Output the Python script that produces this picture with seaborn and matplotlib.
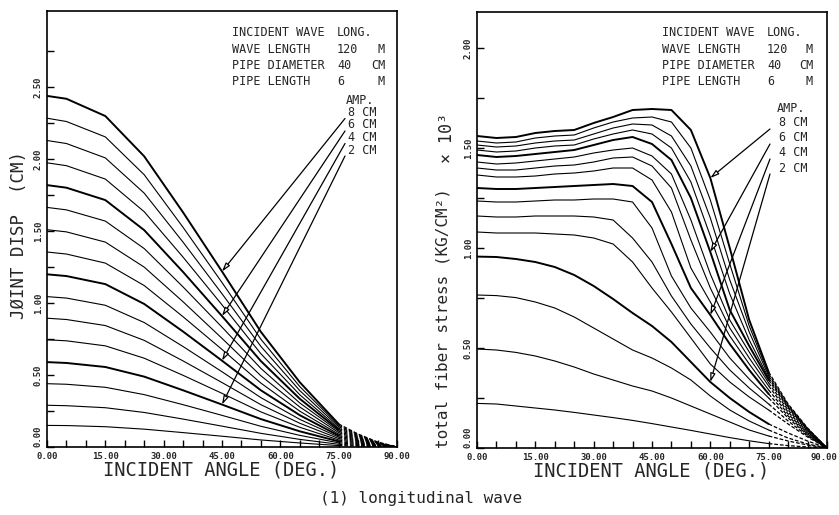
import matplotlib
matplotlib.use("Agg")
import matplotlib.pyplot as plt
import matplotlib.transforms as mtrans
import numpy as np
import pandas as pd
import seaborn as sns

# amplitude of ground displacement for each curve (cm)
amps = [0.5, 1.0, 1.5, 2.0, 2.5, 3.0, 3.5, 4.0, 4.5, 5.0, 5.5, 6.0, 6.5, 7.0, 7.5, 8.0]

# left panel: joint displacement (cm), one row per amplitude
disp_angles = [0, 5, 15, 25, 35, 45, 55, 65, 75, 80, 85, 90]
disp_curves = [
    [0.15, 0.149, 0.141, 0.124, 0.10, 0.075, 0.049, 0.028, 0.010, 0.006, 0.002, 0.0],
    [0.29, 0.287, 0.273, 0.24, 0.194, 0.145, 0.095, 0.053, 0.019, 0.011, 0.004, 0.0],
    [0.44, 0.436, 0.415, 0.364, 0.294, 0.22, 0.144, 0.081, 0.029, 0.016, 0.006, 0.0],
    [0.59, 0.584, 0.556, 0.489, 0.394, 0.295, 0.194, 0.109, 0.039, 0.022, 0.008, 0.0],
    [0.745, 0.738, 0.703, 0.617, 0.498, 0.373, 0.244, 0.137, 0.049, 0.028, 0.010, 0.0],
    [0.895, 0.886, 0.844, 0.741, 0.598, 0.448, 0.294, 0.165, 0.059, 0.033, 0.013, 0.0],
    [1.045, 1.035, 0.985, 0.865, 0.698, 0.523, 0.343, 0.192, 0.069, 0.039, 0.015, 0.0],
    [1.20, 1.188, 1.132, 0.994, 0.802, 0.60, 0.394, 0.221, 0.079, 0.044, 0.017, 0.0],
    [1.355, 1.341, 1.278, 1.122, 0.905, 0.678, 0.444, 0.249, 0.089, 0.050, 0.019, 0.0],
    [1.51, 1.495, 1.424, 1.250, 1.009, 0.755, 0.495, 0.278, 0.100, 0.056, 0.021, 0.0],
    [1.665, 1.648, 1.570, 1.379, 1.112, 0.833, 0.546, 0.306, 0.110, 0.062, 0.023, 0.0],
    [1.82, 1.802, 1.716, 1.507, 1.216, 0.91, 0.597, 0.335, 0.120, 0.067, 0.025, 0.0],
    [1.975, 1.955, 1.862, 1.635, 1.319, 0.988, 0.648, 0.363, 0.130, 0.073, 0.028, 0.0],
    [2.13, 2.109, 2.009, 1.764, 1.423, 1.065, 0.699, 0.392, 0.141, 0.079, 0.030, 0.0],
    [2.285, 2.262, 2.155, 1.892, 1.526, 1.143, 0.749, 0.420, 0.151, 0.085, 0.032, 0.0],
    [2.44, 2.42, 2.30, 2.02, 1.63, 1.22, 0.80, 0.45, 0.16, 0.09, 0.035, 0.0],
]

# right panel: total fiber stress (x10^3 kg/cm2)
stress_angles = [0, 5, 10, 15, 20, 25, 30, 35, 40, 45, 50, 55, 60, 65, 70, 75, 80, 85, 90]
stress_curves = [
    [0.223, 0.22, 0.21, 0.20, 0.19, 0.178, 0.165, 0.152, 0.138, 0.122, 0.105, 0.088, 0.07, 0.052, 0.036, 0.022, 0.012, 0.005, 0.0],
    [0.495, 0.49, 0.478, 0.46, 0.435, 0.405, 0.37, 0.34, 0.31, 0.285, 0.25, 0.21, 0.17, 0.13, 0.09, 0.06, 0.035, 0.015, 0.0],
    [0.765, 0.762, 0.752, 0.73, 0.70, 0.655, 0.60, 0.545, 0.49, 0.45, 0.40, 0.34, 0.26, 0.19, 0.135, 0.09, 0.05, 0.02, 0.0],
    [0.957, 0.955, 0.945, 0.93, 0.905, 0.865, 0.81, 0.745, 0.675, 0.61, 0.53, 0.43, 0.33, 0.25, 0.18, 0.12, 0.075, 0.035, 0.0],
    [1.08, 1.075, 1.075, 1.075, 1.07, 1.065, 1.05, 1.02, 0.93, 0.80, 0.68, 0.55, 0.42, 0.33, 0.255, 0.19, 0.12, 0.055, 0.0],
    [1.16, 1.155, 1.155, 1.16, 1.16, 1.16, 1.155, 1.14, 1.05, 0.93, 0.76, 0.62, 0.50, 0.39, 0.30, 0.22, 0.135, 0.06, 0.0],
    [1.235, 1.23, 1.23, 1.235, 1.24, 1.24, 1.245, 1.245, 1.23, 1.10, 0.86, 0.70, 0.58, 0.45, 0.345, 0.25, 0.15, 0.065, 0.0],
    [1.30, 1.295, 1.295, 1.30, 1.305, 1.31, 1.315, 1.32, 1.31, 1.23, 1.02, 0.80, 0.665, 0.52, 0.39, 0.27, 0.16, 0.07, 0.0],
    [1.365, 1.355, 1.355, 1.36, 1.37, 1.375, 1.385, 1.40, 1.40, 1.34, 1.18, 0.90, 0.73, 0.56, 0.42, 0.29, 0.17, 0.075, 0.0],
    [1.40, 1.39, 1.39, 1.40, 1.41, 1.415, 1.43, 1.45, 1.455, 1.41, 1.30, 1.04, 0.80, 0.60, 0.45, 0.31, 0.18, 0.08, 0.0],
    [1.43, 1.42, 1.425, 1.435, 1.445, 1.455, 1.475, 1.49, 1.50, 1.46, 1.37, 1.14, 0.87, 0.64, 0.48, 0.325, 0.19, 0.085, 0.0],
    [1.465, 1.455, 1.46, 1.47, 1.48, 1.49, 1.515, 1.54, 1.555, 1.52, 1.44, 1.25, 0.98, 0.69, 0.51, 0.34, 0.20, 0.09, 0.0],
    [1.49, 1.48, 1.485, 1.50, 1.51, 1.515, 1.545, 1.57, 1.59, 1.57, 1.50, 1.33, 1.06, 0.77, 0.54, 0.35, 0.205, 0.092, 0.0],
    [1.515, 1.505, 1.51, 1.525, 1.535, 1.54, 1.57, 1.60, 1.62, 1.615, 1.56, 1.41, 1.15, 0.84, 0.58, 0.36, 0.21, 0.095, 0.0],
    [1.535, 1.525, 1.53, 1.55, 1.56, 1.565, 1.60, 1.63, 1.65, 1.655, 1.63, 1.50, 1.24, 0.92, 0.61, 0.37, 0.215, 0.097, 0.0],
    [1.56, 1.55, 1.555, 1.575, 1.585, 1.59, 1.625, 1.655, 1.69, 1.695, 1.69, 1.59, 1.35, 1.00, 0.64, 0.38, 0.22, 0.10, 0.0],
]

info_rows = [("INCIDENT WAVE", "LONG.", ""), ("WAVE LENGTH", "120", "M"),
             ("PIPE DIAMETER", "40", "CM"), ("PIPE LENGTH", "6", "M")]
legend_amps = ["8 CM", "6 CM", "4 CM", "2 CM"]
legend_idx = [15, 11, 7, 3]

sns.set_style("ticks")
plt.rcParams["font.family"] = ["DejaVu Sans Mono", "DejaVu Sans"]
MONO = "DejaVu Sans Mono"

W, H = 839, 515
fig = plt.figure(figsize=(W / 100, H / 100), dpi=100)


def px(x, y):
    return x / W, 1 - y / H


def long_frame(angles, curves):
    rows = []
    for a, vals in zip(amps, curves):
        for ang, v in zip(angles, vals):
            rows.append({"angle": ang, "value": v, "amp": a})
    return pd.DataFrame(rows)


def draw_panel(ax, angles, curves, ymax, ymajor, yminor, tail_from):
    df = long_frame(angles, curves)
    head = df[df["angle"] <= tail_from]
    tail = df[df["angle"] >= tail_from]
    sns.lineplot(data=head, x="angle", y="value", hue="amp",
                 palette=["black"] * len(amps), legend=False,
                 estimator=None, sort=False, ax=ax)
    for a, line in zip(amps, ax.get_lines()):
        line.set_linewidth(1.4 if a % 2 == 0 else 0.8)
    n = len(ax.get_lines())
    # the crowded tail near 90 deg looks broken in the original plot
    sns.lineplot(data=tail, x="angle", y="value", hue="amp",
                 palette=["black"] * len(amps), legend=False,
                 estimator=None, sort=False, ax=ax)
    for line in ax.get_lines()[n:]:
        line.set_linewidth(0.9)
        line.set_linestyle((0, (3, 1.5)))
    ax.set_xlim(0, 90)
    ax.set_ylim(0, ymax)
    ax.set_xticks(np.arange(0, 91, 15))
    ax.set_xticks(np.arange(0, 91, 5), minor=True)
    ax.set_xticklabels([f"{v:.2f}" for v in np.arange(0, 91, 15)])
    ax.set_yticks(ymajor)
    ax.set_yticks(yminor, minor=True)
    ax.set_yticklabels([f"{v:.2f}" for v in ymajor], rotation=90, va="center")
    ax.tick_params(which="both", direction="in", length=5, width=1, color="black")
    ax.tick_params(axis="y", pad=3)
    ax.tick_params(labelsize=6.5)
    for lab in ax.get_xticklabels() + ax.get_yticklabels():
        lab.set_fontweight("bold")
        lab.set_family(MONO)
    ax.get_yticklabels()[0].set_va("bottom")
    ax.set_xlabel("")
    ax.set_ylabel("")
    for s in ax.spines.values():
        s.set_visible(True)
        s.set_linewidth(1.2)
        s.set_color("black")


# left panel
ax1 = fig.add_axes([47 / W, 68 / H, 350 / W, 436 / H])
draw_panel(ax1, disp_angles, disp_curves, 3.03,
           np.arange(0, 2.51, 0.5), np.arange(0, 2.76, 0.25), 75)

# right panel
ax2 = fig.add_axes([477 / W, 67 / H, 350 / W, 436 / H])
draw_panel(ax2, stress_angles, stress_curves, 2.18,
           np.arange(0, 2.01, 0.5), np.arange(0, 2.01, 0.25), 75)
last = ax2.get_xticklabels()[-1]
last.set_transform(last.get_transform() + mtrans.ScaledTranslation(-3 / 100, 0, fig.dpi_scale_trans))

# info blocks
for (x1, x2, x3) in [(232, 337, 385), (662, 767, 813)]:
    for i, (a, b, c) in enumerate(info_rows):
        y = 33 + i * 16.3
        fig.text(*px(x1, y), a, fontsize=8.5, family=MONO, va="center")
        fig.text(*px(x2, y), b, fontsize=8.5, family=MONO, va="center")
        fig.text(*px(x3, y), c, fontsize=8.5, family=MONO, va="center", ha="right")


# amplitude labels and arrows
def amp_legend(ax, x0, y0, dy, tip_angle, angles, curves, x_start):
    fig.text(*px(x0, y0), "AMP.", fontsize=8.5, family=MONO, va="center")
    inv = ax.transData.inverted()
    for j, (lab, k) in enumerate(zip(legend_amps, legend_idx)):
        y = y0 + dy * (j + 1)
        fig.text(*px(x0 + 2, y), lab, fontsize=8.5, family=MONO, va="center")
        start = inv.transform((x_start, H - (y + 6)))
        tip = (tip_angle, curves[k][angles.index(tip_angle)])
        ax.annotate("", xy=tip, xytext=start, xycoords="data", textcoords="data",
                    arrowprops=dict(arrowstyle="-|>,head_length=0.5,head_width=0.15",
                                    lw=0.9, color="black", fc="white",
                                    shrinkA=0, shrinkB=0))


amp_legend(ax1, 346, 100, 12.5, 45, disp_angles, disp_curves, 345)
amp_legend(ax2, 777, 108, 15, 60, stress_angles, stress_curves, 770)

# axis titles
fig.text(*px(221, 470), "INCIDENT ANGLE (DEG.)", fontsize=13.5, family=MONO,
         ha="center", va="center")
fig.text(*px(651, 471), "INCIDENT ANGLE (DEG.)", fontsize=13.5, family=MONO,
         ha="center", va="center")
fig.text(*px(19, 235), "J\u00d8INT DISP  (CM)", fontsize=12.5, family=MONO,
         rotation=90, ha="center", va="center")
fig.text(*px(443, 318), "total fiber stress (KG/CM\u00b2)", fontsize=11.5, family=MONO,
         rotation=90, ha="center", va="center")
fig.text(*px(447, 138), "\u00d7 10\u00b3", fontsize=12, family=MONO,
         rotation=90, ha="center", va="center")

fig.text(*px(421, 498), "(1) longitudinal wave", fontsize=11.5, family=MONO,
         ha="center", va="center")

fig.savefig("out.png", dpi=100)
